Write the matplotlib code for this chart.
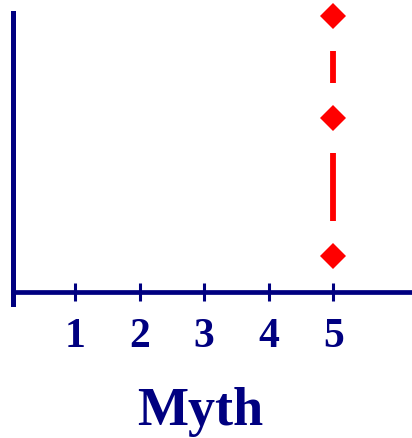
import matplotlib.pyplot as plt

# data
x_ticks = [1, 2, 3, 4, 5]
tick_labels = ["1", "2", "3", "4", "5"]
point_x = [5, 5, 5]
point_y = [9.9, 6.25, 1.3]
x_label = "Myth"

NAVY = "#000080"
RED = "#ff0000"

fig = plt.figure(figsize=(4.12, 4.39), dpi=100)
ax = fig.add_axes([12.5 / 412, (439 - 305) / 439, (412 - 12.5) / 412, (305 - 14) / 439])
ax.set_xlim(0.03, 6.22)
ax.set_ylim(-0.43, 10.0)

for side in ["top", "right"]:
    ax.spines[side].set_visible(False)
ax.spines["bottom"].set_position(("data", 0))
ax.spines["bottom"].set_color(NAVY)
ax.spines["bottom"].set_linewidth(3.4)
ax.spines["left"].set_color(NAVY)
ax.spines["left"].set_linewidth(3.6)

ax.set_yticks([])
ax.set_xticks(x_ticks)
ax.set_xticklabels(tick_labels, family="Liberation Serif", fontweight="bold",
                   fontsize=30, color=NAVY)
ax.tick_params(axis="x", direction="inout", length=12.5, width=2.2,
               color=NAVY, pad=12)

# dashed connector between consecutive points, leaving gaps at the ends
gap = 1.25
for i in range(len(point_y) - 1):
    top, bottom = point_y[i], point_y[i + 1]
    ax.plot([point_x[i], point_x[i + 1]], [top - gap, bottom + gap],
            color=RED, linewidth=4.2, solid_capstyle="butt")

ax.plot(point_x, point_y, linestyle="none", marker="D", markersize=13.2,
        markeredgewidth=0, color=RED, clip_on=False)

fig.text(200 / 412, (439 - 425) / 439, x_label, family="Liberation Serif",
         fontweight="bold", fontsize=39, color=NAVY, ha="center", va="baseline")

fig.savefig("out.png", dpi=100)
